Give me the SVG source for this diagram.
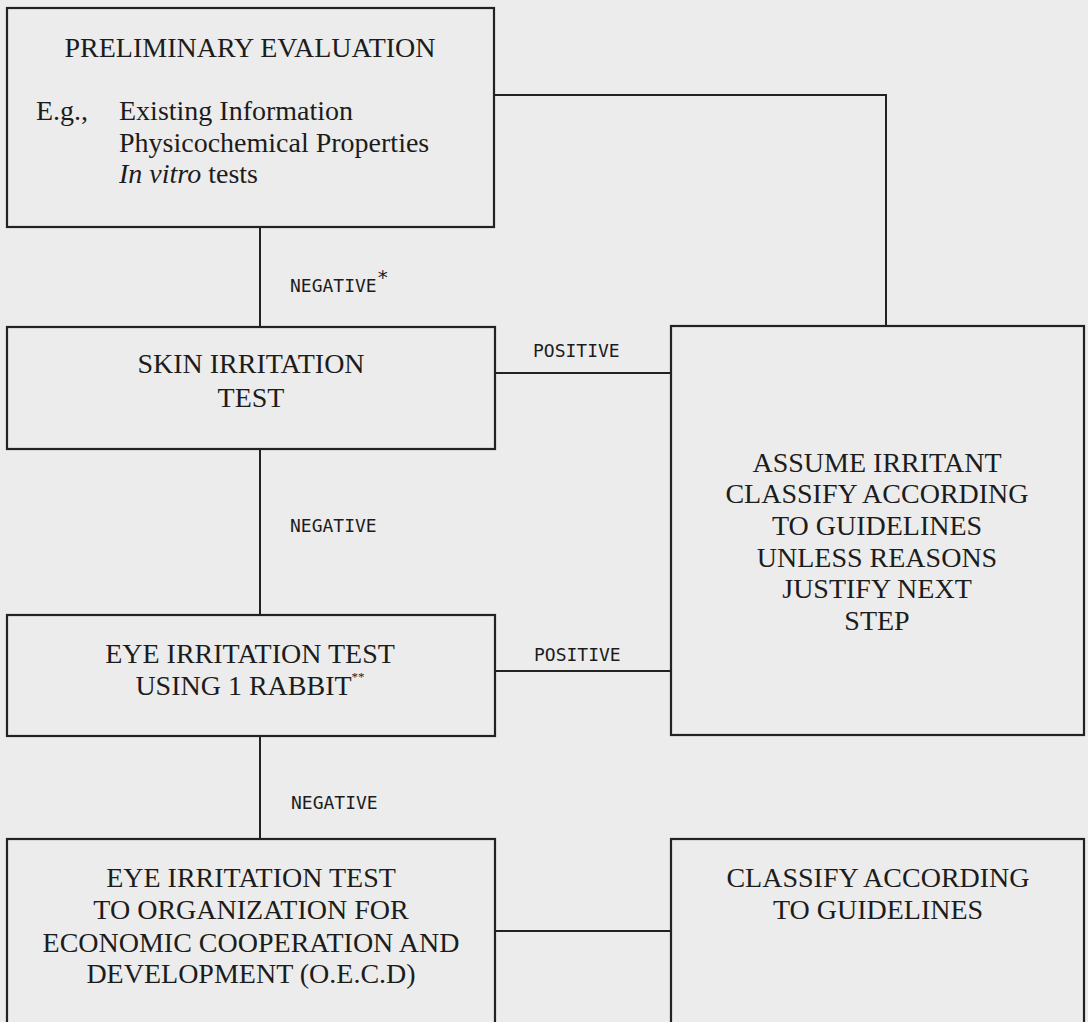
<svg xmlns="http://www.w3.org/2000/svg" width="1088" height="1022" viewBox="0 0 1088 1022">
<style>
.box{fill:none;stroke:#222;stroke-width:2.2}
.ln{fill:none;stroke:#222;stroke-width:2}
.t{font-family:"Liberation Serif","Times New Roman",serif;font-size:28px;fill:#1c1c1c;text-anchor:middle}
.tl{font-family:"Liberation Serif","Times New Roman",serif;font-size:28px;fill:#1c1c1c}
.lbl{font-family:"DejaVu Sans Mono","Liberation Mono",monospace;font-size:18px;fill:#1c1c1c}
.sup{font-size:13px}
</style>
<rect x="0" y="0" width="1088" height="1022" fill="#ececec"/>
<g id="connectors">
<path class="ln" d="M494,95 H886 V326"/>
<path class="ln" d="M260,227 V327"/>
<path class="ln" d="M495,373 H671"/>
<path class="ln" d="M260,449 V615"/>
<path class="ln" d="M495,671 H671"/>
<path class="ln" d="M260,736 V839"/>
<path class="ln" d="M495,931 H671"/>
<text class="lbl" x="290" y="292">NEGATIVE<tspan font-size="20" dy="-8">*</tspan></text>
<text class="lbl" x="533" y="357">POSITIVE</text>
<text class="lbl" x="290" y="532">NEGATIVE</text>
<text class="lbl" x="534" y="661">POSITIVE</text>
<text class="lbl" x="291" y="809">NEGATIVE</text>
</g>
<g id="preliminary">
<rect class="box" x="7" y="8" width="487" height="219"/>
<text class="t" x="250" y="57">PRELIMINARY EVALUATION</text>
<text class="tl" x="36" y="120">E.g.,</text>
<text class="tl" x="119" y="120">Existing Information</text>
<text class="tl" x="119" y="152">Physicochemical Properties</text>
<text class="tl" x="119" y="183"><tspan font-style="italic">In vitro</tspan> tests</text>
</g>
<g id="skin">
<rect class="box" x="7" y="327" width="488" height="122"/>
<text class="t" x="251" y="373">SKIN IRRITATION</text>
<text class="t" x="251" y="407">TEST</text>
</g>
<g id="eye1">
<rect class="box" x="7" y="615" width="488" height="121"/>
<text class="t" x="250" y="663">EYE IRRITATION TEST</text>
<text class="t" x="250" y="695">USING 1 RABBIT<tspan class="sup" dy="-14">**</tspan></text>
</g>
<g id="assume">
<rect class="box" x="671" y="326" width="413" height="409"/>
<text class="t" x="877" y="472">ASSUME IRRITANT</text>
<text class="t" x="877" y="503">CLASSIFY ACCORDING</text>
<text class="t" x="877" y="535">TO GUIDELINES</text>
<text class="t" x="877" y="567">UNLESS REASONS</text>
<text class="t" x="877" y="598">JUSTIFY NEXT</text>
<text class="t" x="877" y="630">STEP</text>
</g>
<g id="oecd">
<rect class="box" x="7" y="839" width="488" height="200"/>
<text class="t" x="251" y="887">EYE IRRITATION TEST</text>
<text class="t" x="251" y="919">TO ORGANIZATION FOR</text>
<text class="t" x="251" y="952">ECONOMIC COOPERATION AND</text>
<text class="t" x="251" y="983">DEVELOPMENT (O.E.C.D)</text>
</g>
<g id="classify">
<rect class="box" x="671" y="839" width="413" height="200"/>
<text class="t" x="878" y="887">CLASSIFY ACCORDING</text>
<text class="t" x="878" y="919">TO GUIDELINES</text>
</g>
</svg>
